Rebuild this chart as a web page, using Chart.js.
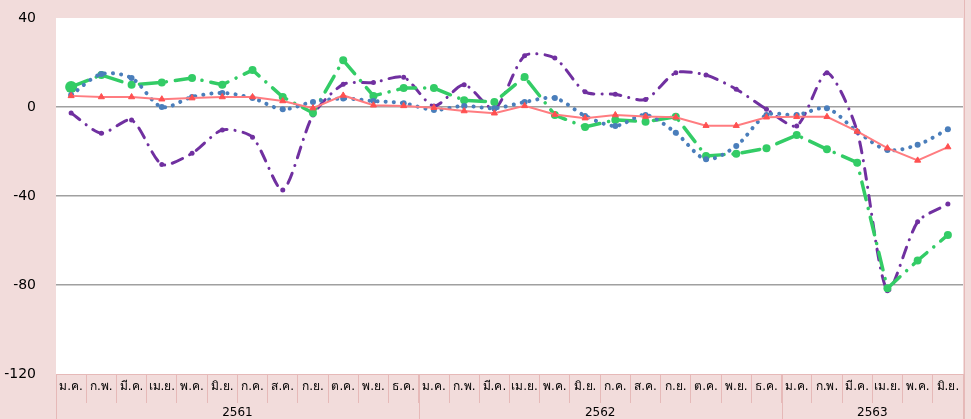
<!DOCTYPE html>
<html lang="th">
<head>
  <meta charset="UTF-8">
  <title>Chart</title>
  <script src="https://cdn.jsdelivr.net/npm/chart.js"></script>
  <style>
    html, body { margin: 0; padding: 0; background: #f2dcdb; overflow: hidden; }
    canvas { display: block; }
  </style>
</head>
<body>
  <canvas id="lineChart" width="971" height="419"></canvas>
  <script>
    // month labels (Jan 2561 .. Jun 2563)
    const monthNames = ['ม.ค.', 'ก.พ.', 'มี.ค.', 'เม.ย.', 'พ.ค.', 'มิ.ย.', 'ก.ค.', 'ส.ค.', 'ก.ย.', 'ต.ค.', 'พ.ย.', 'ธ.ค.'];
    const months = monthNames.concat(monthNames, monthNames.slice(0, 6));
    const years = ['2561', '2562', '2563'];
    const yearCounts = [12, 12, 6];

    const redSeries = [5, 4.5, 4.5, 3.5, 4, 4.5, 4.5, 2.7, -0.5, 5.2, 0.8, 0.5,
      -0.3, -1.8, -2.8, 0.5, -3.4, -5, -3.6, -4.3, -4.6, -8.4, -8.4, -4.6,
      -4.4, -4.4, -11, -18.5, -24, -18];
    const blueSeries = [5.4, 14.8, 13, 0, 4.5, 6.3, 4, -1, 2.3, 3.8, 2.7, 1.7,
      -1.3, 0.5, -0.6, 2.2, 4, -4, -8.5, -3.6, -11.6, -23.5, -17.5, -3.6,
      -3.6, -0.6, -11, -19.3, -17, -10];
    const greenSeries = [9, 14.4, 10, 11, 13, 10, 16.6, 4.5, -2.7, 21, 5, 8.5,
      8.5, 3, 2.3, 13.5, -3.6, -9, -5.8, -6.6, -4.4, -22, -21, -18.5,
      -12.6, -19, -25, -81.5, -69, -57.5];
    const purpleSeries = [-2.7, -11.8, -5.8, -25.8, -20.8, -10.3, -13.6, -37.3, -3.6, 10.2, 11, 13.4,
      0.4, 10, -0.9, 23, 22, 6.8, 5.7, 3.4, 15.4, 14.4, 8, -1,
      -8.5, 15.4, -11, -82.6, -51.6, -43.6];

    const cellLine = '#e6b9b8';
    const fontFamily = "Tahoma, 'DejaVu Sans', 'Liberation Sans', sans-serif";

    const backgroundPlugin = {
      id: 'background',
      beforeDraw(chart) {
        const { ctx, chartArea } = chart;
        ctx.save();
        ctx.fillStyle = '#f2dcdb';
        ctx.fillRect(0, 0, chart.width, chart.height);
        ctx.fillStyle = '#ffffff';
        ctx.fillRect(chartArea.left, chartArea.top, chartArea.right - chartArea.left, chartArea.bottom - chartArea.top);
        ctx.restore();
      }
    };

    // second label row with the years
    const yearRowPlugin = {
      id: 'yearRow',
      afterDraw(chart) {
        const { ctx, chartArea } = chart;
        const x = chart.scales.x;
        ctx.save();
        ctx.strokeStyle = cellLine;
        ctx.lineWidth = 1;
        ctx.beginPath();
        ctx.moveTo(chartArea.left, chartArea.bottom + 0.5);
        ctx.lineTo(chartArea.right + 1, chartArea.bottom + 0.5);
        ctx.stroke();
        ctx.fillStyle = '#000000';
        ctx.font = '12px ' + fontFamily;
        ctx.textAlign = 'center';
        ctx.textBaseline = 'middle';
        let start = 0;
        for (let i = 0; i < years.length; i++) {
          const end = start + yearCounts[i];
          const x0 = x.getPixelForValue(start - 0.5);
          const x1 = x.getPixelForValue(end - 0.5);
          ctx.beginPath();
          ctx.moveTo(Math.round(x0) + 0.5, chartArea.bottom);
          ctx.lineTo(Math.round(x0) + 0.5, chart.height);
          ctx.moveTo(Math.round(x1) + 0.5, chartArea.bottom);
          ctx.lineTo(Math.round(x1) + 0.5, chart.height);
          ctx.stroke();
          ctx.fillText(years[i], (x0 + x1) / 2, chartArea.bottom + 39);
          start = end;
        }
        ctx.beginPath();
        ctx.moveTo(chartArea.right + 1.5, 0);
        ctx.lineTo(chartArea.right + 1.5, chart.height);
        ctx.stroke();
        ctx.restore();
      }
    };

    const ctx = document.getElementById('lineChart').getContext('2d');
    new Chart(ctx, {
      type: 'line',
      data: {
        labels: months,
        datasets: [{
          label: 'red',
          data: redSeries,
          borderColor: '#ff7c80',
          backgroundColor: '#ff5050',
          borderWidth: 2,
          pointStyle: 'triangle',
          pointRadius: 3.5,
          pointBorderWidth: 1,
          pointBorderColor: '#ff5050',
          tension: 0
        }, {
          label: 'blue',
          data: blueSeries,
          borderColor: '#4a7ebb',
          backgroundColor: '#4a7ebb',
          borderWidth: 4,
          borderDash: [0.1, 8],
          borderCapStyle: 'round',
          pointRadius: 3,
          pointBorderWidth: 0,
          tension: 0.3
        }, {
          label: 'green',
          data: greenSeries,
          borderColor: '#33cc66',
          backgroundColor: '#33cc66',
          borderWidth: 3.5,
          borderDash: [18, 9, 0.1, 9],
          borderCapStyle: 'round',
          pointRadius: greenSeries.map((v, i) => i === 0 ? 6 : 4),
          pointBorderWidth: 0,
          tension: 0
        }, {
          label: 'purple',
          data: purpleSeries,
          borderColor: '#7030a0',
          backgroundColor: '#7030a0',
          borderWidth: 3,
          borderDash: [11, 8, 0.1, 8],
          borderCapStyle: 'round',
          pointRadius: 2.5,
          pointBorderWidth: 0,
          tension: 0.25
        }]
      },
      options: {
        responsive: false,
        animation: false,
        maintainAspectRatio: false,
        layout: { padding: { left: 0, right: 8, top: 0, bottom: 0 } },
        plugins: {
          legend: { display: false },
          tooltip: { enabled: false }
        },
        scales: {
          x: {
            offset: true,
            grid: {
              offset: true,
              drawOnChartArea: false,
              drawTicks: true,
              tickLength: 29,
              color: cellLine,
              lineWidth: 1
            },
            border: { display: false },
            ticks: {
              color: '#000000',
              font: { size: 12, family: fontFamily },
              padding: -23,
              maxRotation: 0,
              autoSkip: false
            },
            afterFit(scale) { scale.height = 45; }
          },
          y: {
            min: -120,
            max: 40,
            grid: {
              color: c => (c.tick.value === 0 || c.tick.value === -40 || c.tick.value === -80) ? '#a0a0a0' : 'rgba(0,0,0,0)',
              lineWidth: 1.5,
              drawTicks: false
            },
            border: { display: false },
            ticks: {
              stepSize: 40,
              color: '#000000',
              font: { size: 14, family: fontFamily },
              padding: 20
            },
            afterFit(scale) {
              scale.width = 56;
              scale.paddingTop = 18;
              scale.paddingBottom = 9;
            }
          }
        }
      },
      plugins: [backgroundPlugin, yearRowPlugin]
    });
  </script>
</body>
</html>
